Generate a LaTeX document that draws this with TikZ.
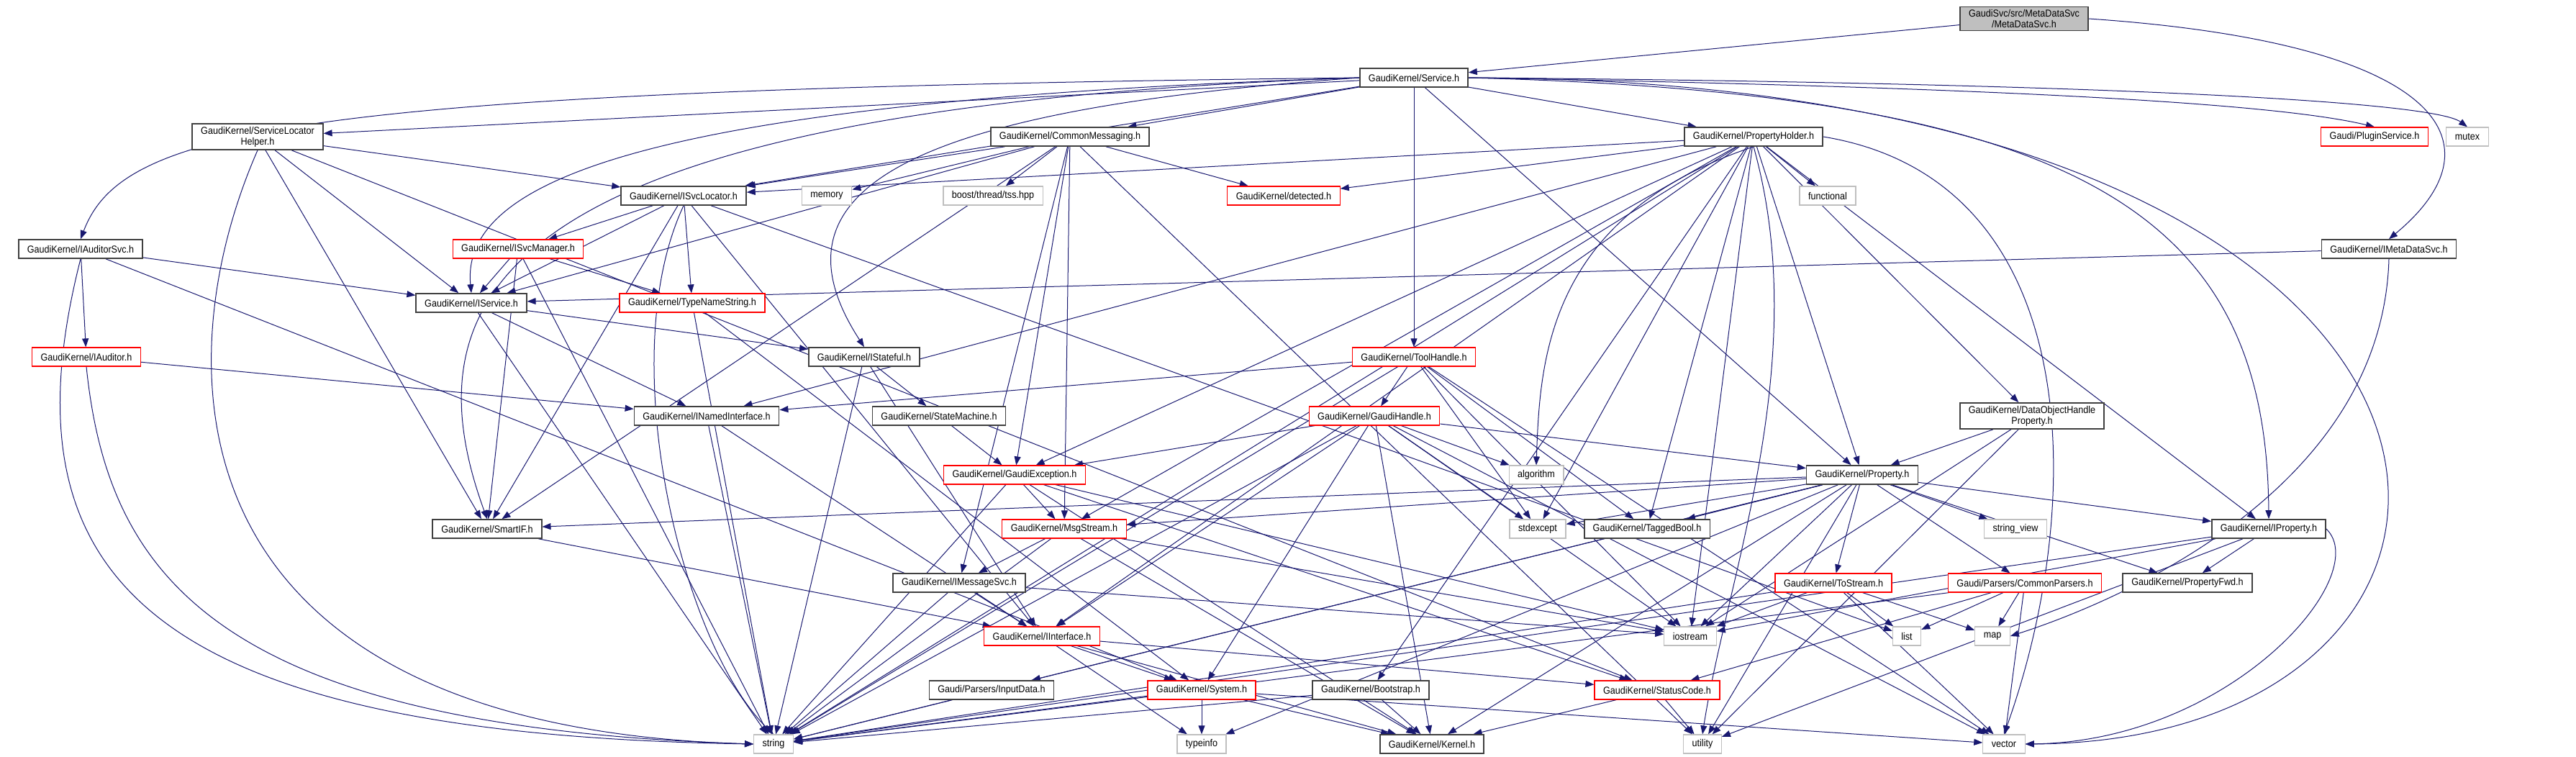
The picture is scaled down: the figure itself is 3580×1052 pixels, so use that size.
\documentclass[tikz,border=0pt]{standalone}
\usepackage{fontspec}
\usetikzlibrary{arrows.meta}
\newfontfamily\graphfont[FakeStretch=0.9]{Liberation Sans}
\definecolor{edgeblue}{RGB}{25,25,112}
\definecolor{boxgray}{RGB}{191,191,191}
\pgfdeclarelayer{background}
\pgfsetlayers{background,main}
\begin{document}
\begin{tikzpicture}[x=1pt, y=-1pt,
        box/.style={
            rectangle,
            draw=black!75, line width=1.6pt,
            fill=white,
            font=\graphfont\fontsize{14}{15}\selectfont,
            inner xsep=12pt, inner ysep=4pt,
            minimum height=26pt,
            align=center},
        redbox/.style={box, draw=red, line width=1.2pt},
        sysbox/.style={box, draw=boxgray, line width=1.2pt},
        mainbox/.style={box, fill=boxgray},
        arrow/.style={
            draw=edgeblue,
            line width=1pt,
            -{Triangle[length=12pt,width=9pt]}}
        ]
    \useasboundingbox (0,0) rectangle (3580,1052);

    \node (main) [mainbox] at (2813,26) {GaudiSvc/src/MetaDataSvc\\/MetaDataSvc.h};
    \node (service) [box] at (1965,108) {GaudiKernel/Service.h};
    \node (slhelper) [box] at (358,190) {GaudiKernel/ServiceLocator\\Helper.h};
    \node (commonmsg) [box] at (1487,190) {GaudiKernel/CommonMessaging.h};
    \node (propholder) [box] at (2437,190) {GaudiKernel/PropertyHolder.h};
    \node (pluginsvc) [redbox] at (3300,190) {Gaudi/PluginService.h};
    \node (mutex) [sysbox] at (3429,190) {mutex};
    \node (svclocator) [box] at (950,272) {GaudiKernel/ISvcLocator.h};
    \node (memory) [sysbox] at (1149,272) {memory};
    \node (tss) [sysbox] at (1380,272) {boost/thread/tss.hpp};
    \node (detected) [redbox] at (1784,272) {GaudiKernel/detected.h};
    \node (functional) [sysbox] at (2540,272) {functional};
    \node (auditorsvc) [box] at (112,346) {GaudiKernel/IAuditorSvc.h};
    \node (svcmanager) [redbox] at (720,346) {GaudiKernel/ISvcManager.h};
    \node (imetadatasvc) [box] at (3320,346) {GaudiKernel/IMetaDataSvc.h};
    \node (iservice) [box] at (655,421) {GaudiKernel/IService.h};
    \node (typename) [redbox] at (962,421) {GaudiKernel/TypeNameString.h};
    \node (iauditor) [redbox] at (120,496) {GaudiKernel/IAuditor.h};
    \node (istateful) [box] at (1201,496) {GaudiKernel/IStateful.h};
    \node (toolhandle) [redbox] at (1965,496) {GaudiKernel/ToolHandle.h};
    \node (dohprop) [box] at (2824,578) {GaudiKernel/DataObjectHandle\\Property.h};
    \node (namedif) [box] at (982,578) {GaudiKernel/INamedInterface.h};
    \node (statemachine) [box] at (1305,578) {GaudiKernel/StateMachine.h};
    \node (gaudihandle) [redbox] at (1910,578) {GaudiKernel/GaudiHandle.h};
    \node (gaudiexc) [redbox] at (1410,660) {GaudiKernel/GaudiException.h};
    \node (algorithm) [sysbox] at (2135,660) {algorithm};
    \node (property) [box] at (2588,660) {GaudiKernel/Property.h};
    \node (smartif) [box] at (677,735) {GaudiKernel/SmartIF.h};
    \node (msgstream) [redbox] at (1479,735) {GaudiKernel/MsgStream.h};
    \node (stdexcept) [sysbox] at (2137,735) {stdexcept};
    \node (taggedbool) [box] at (2289,735) {GaudiKernel/TaggedBool.h};
    \node (stringview) [sysbox] at (2801,735) {string\_view};
    \node (iproperty) [box] at (3153,735) {GaudiKernel/IProperty.h};
    \node (imessagesvc) [box] at (1333,810) {GaudiKernel/IMessageSvc.h};
    \node (tostream) [redbox] at (2548,810) {GaudiKernel/ToStream.h};
    \node (parsers) [redbox] at (2814,810) {Gaudi/Parsers/CommonParsers.h};
    \node (propfwd) [box] at (3040,810) {GaudiKernel/PropertyFwd.h};
    \node (iinterface) [redbox] at (1448,884) {GaudiKernel/IInterface.h};
    \node (iostream) [sysbox] at (2349,884) {iostream};
    \node (list) [sysbox] at (2650,884) {list};
    \node (map) [sysbox] at (2769,884) {map};
    \node (inputdata) [box] at (1378,959) {Gaudi/Parsers/InputData.h};
    \node (system) [redbox] at (1670,959) {GaudiKernel/System.h};
    \node (bootstrap) [box] at (1905,959) {GaudiKernel/Bootstrap.h};
    \node (statuscode) [redbox] at (2303,959) {GaudiKernel/StatusCode.h};
    \node (string) [sysbox] at (1075,1034) {string};
    \node (typeinfo) [sysbox] at (1670,1034) {typeinfo};
    \node (kernel) [box] at (1990,1034) {GaudiKernel/Kernel.h};
    \node (utility) [sysbox] at (2366,1034) {utility};
    \node (vector) [sysbox] at (2785,1034) {vector};

    \begin{pgfonlayer}{background}
    \draw [arrow] (main) -- (service);
    \draw [arrow] (main.east) .. controls (3400,60) and (3480,200) .. (imetadatasvc.north);

    \draw [arrow] (service) -- (slhelper);
    \draw [arrow] (service.west) .. controls (400,125) and (170,180) .. (auditorsvc.north);
    \draw [arrow] (service) -- (svclocator);
    \draw [arrow] (service) -- (commonmsg);
    \draw [arrow] (service) -- (propholder);
    \draw [arrow] (service.east) .. controls (2700,120) and (3150,140) .. (pluginsvc.north);
    \draw [arrow] (service.east) .. controls (2900,115) and (3380,140) .. (mutex.north);
    \draw [arrow] (service.east) .. controls (3580,110) and (3580,1030) .. (vector.east);
    \draw [arrow] (service.east) .. controls (2900,130) and (3150,300) .. (iproperty.north);
    \draw [arrow] (service) -- (property);
    \draw [arrow] (service) -- (toolhandle);
    \draw [arrow] (service.west) .. controls (1300,150) and (1050,250) .. (istateful.north);
    \draw [arrow] (service.west) .. controls (900,140) and (640,250) .. (iservice.north);
    \draw [arrow] (service.west) .. controls (700,150) and (560,400) .. (smartif.north);

    \draw [arrow] (slhelper) -- (svclocator);
    \draw [arrow] (slhelper) -- (iservice);
    \draw [arrow] (slhelper) -- (smartif);
    \draw [arrow] (slhelper.south) .. controls (230,500) and (220,1010) .. (string.west);
    \draw [arrow] (slhelper) -- (statuscode);

    \draw [arrow] (auditorsvc) -- (iservice);
    \draw [arrow] (auditorsvc) -- (iauditor);
    \draw [arrow] (auditorsvc.south) .. controls (0,800) and (200,1020) .. (string.west);
    \draw [arrow] (auditorsvc) -- (system);

    \draw [arrow] (iauditor) -- (namedif);
    \draw [arrow] (iauditor.south) .. controls (150,800) and (300,1010) .. (string.west);

    \draw [arrow] (svclocator) -- (svcmanager);
    \draw [arrow] (svclocator) -- (iservice);
    \draw [arrow] (svclocator) -- (typename);
    \draw [arrow] (svclocator) -- (smartif);
    \draw [arrow] (svclocator.south) .. controls (850,500) and (950,900) .. (string.north);
    \draw [arrow] (svclocator) -- (list);
    \draw [arrow] (svclocator) -- (iinterface);

    \draw [arrow] (commonmsg) -- (svclocator);
    \draw [arrow] (commonmsg) -- (memory);
    \draw [arrow] (commonmsg) -- (tss);
    \draw [arrow] (commonmsg) -- (detected);
    \draw [arrow] (commonmsg) -- (iservice);
    \draw [arrow] (commonmsg) -- (smartif);
    \draw [arrow] (commonmsg) -- (gaudiexc);
    \draw [arrow] (commonmsg) -- (msgstream);
    \draw [arrow] (commonmsg) -- (imessagesvc);
    \draw [arrow] (commonmsg) -- (utility);

    \draw [arrow] (propholder) -- (svclocator);
    \draw [arrow] (propholder) -- (detected);
    \draw [arrow] (propholder) -- (namedif);
    \draw [arrow] (propholder) -- (functional);
    \draw [arrow] (propholder) -- (dohprop);
    \draw [arrow] (propholder) -- (property);
    \draw [arrow] (propholder) -- (iproperty);
    \draw [arrow] (propholder.east) .. controls (2900,250) and (2900,700) .. (vector.north);
    \draw [arrow] (propholder.south) .. controls (2150,300) and (2140,500) .. (algorithm.north);
    \draw [arrow] (propholder) -- (msgstream);
    \draw [arrow] (propholder) -- (stdexcept);
    \draw [arrow] (propholder) -- (iostream);
    \draw [arrow] (propholder) -- (bootstrap);
    \draw [arrow] (propholder) -- (string);
    \draw [arrow] (propholder.south) .. controls (2520,500) and (2400,800) .. (utility.north);
    \draw [arrow] (propholder) -- (gaudiexc);
    \draw [arrow] (propholder) -- (iinterface);
    \draw [arrow] (propholder) -- (taggedbool);

    \draw [arrow] (svcmanager) -- (iservice);
    \draw [arrow] (svcmanager) -- (typename);
    \draw [arrow] (svcmanager) -- (smartif);
    \draw [arrow] (svcmanager) -- (string);

    \draw [arrow] (iservice) -- (istateful);
    \draw [arrow] (iservice) -- (namedif);
    \draw [arrow] (iservice) -- (string);

    \draw [arrow] (typename) -- (string);
    \draw [arrow] (typename) -- (system);

    \draw [arrow] (istateful) -- (statemachine);
    \draw [arrow] (istateful) -- (iinterface);
    \draw [arrow] (istateful) -- (string);

    \draw [arrow] (statemachine) -- (gaudiexc);

    \draw [arrow] (namedif) -- (iinterface);
    \draw [arrow] (namedif) -- (string);

    \draw [arrow] (toolhandle) -- (namedif);
    \draw [arrow] (toolhandle) -- (gaudihandle);
    \draw [arrow] (toolhandle) -- (string);
    \draw [arrow] (toolhandle) -- (stdexcept);
    \draw [arrow] (toolhandle) -- (taggedbool);
    \draw [arrow] (toolhandle) -- (vector);
    \draw [arrow] (toolhandle) -- (iostream);

    \draw [arrow] (gaudihandle) -- (gaudiexc);
    \draw [arrow] (gaudihandle) -- (property);
    \draw [arrow] (gaudihandle) -- (algorithm);
    \draw [arrow] (gaudihandle) -- (stdexcept);
    \draw [arrow] (gaudihandle) -- (iostream);
    \draw [arrow] (gaudihandle) -- (string);
    \draw [arrow] (gaudihandle) -- (system);
    \draw [arrow] (gaudihandle) -- (vector);
    \draw [arrow] (gaudihandle) -- (iinterface);
    \draw [arrow] (gaudihandle) -- (kernel);

    \draw [arrow] (gaudiexc) -- (msgstream);
    \draw [arrow] (gaudiexc) -- (string);
    \draw [arrow] (gaudiexc) -- (statuscode);
    \draw [arrow] (gaudiexc) -- (kernel);
    \draw [arrow] (gaudiexc) -- (iostream);

    \draw [arrow] (msgstream) -- (imessagesvc);
    \draw [arrow] (msgstream) -- (string);
    \draw [arrow] (msgstream) -- (iostream);
    \draw [arrow] (msgstream) -- (kernel);

    \draw [arrow] (imessagesvc) -- (iinterface);
    \draw [arrow] (imessagesvc) -- (string);
    \draw [arrow] (imessagesvc) -- (iostream);

    \draw [arrow] (iinterface) -- (typeinfo);
    \draw [arrow] (iinterface) -- (system);
    \draw [arrow] (iinterface) -- (statuscode);
    \draw [arrow] (iinterface) -- (kernel);

    \draw [arrow] (smartif) -- (iinterface);

    \draw [arrow] (property) -- (smartif);
    \draw [arrow] (property) -- (msgstream);
    \draw [arrow] (property) -- (stdexcept);
    \draw [arrow] (property) -- (taggedbool);
    \draw [arrow] (property) -- (stringview);
    \draw [arrow] (property) -- (iproperty);
    \draw [arrow] (property) -- (propfwd);
    \draw [arrow] (property) -- (tostream);
    \draw [arrow] (property) -- (parsers);
    \draw [arrow] (property) -- (iostream);
    \draw [arrow] (property) -- (string);
    \draw [arrow] (property) -- (utility);
    \draw [arrow] (property) -- (typeinfo);
    \draw [arrow] (property) -- (inputdata);
    \draw [arrow] (property) -- (kernel);

    \draw [arrow] (dohprop) -- (property);
    \draw [arrow] (dohprop) -- (iostream);
    \draw [arrow] (dohprop) -- (utility);

    \draw [arrow] (iproperty) -- (propfwd);
    \draw [arrow] (iproperty) -- (iostream);
    \draw [arrow] (iproperty) -- (string);
    \draw [arrow] (iproperty.east) .. controls (3300,800) and (3100,1030) .. (vector.east);
    \draw [arrow] (iproperty) -- (utility);

    \draw [arrow] (imetadatasvc) -- (iservice);
    \draw [arrow] (imetadatasvc.south) .. controls (3310,700) and (2900,850) .. (map.east);

    \draw [arrow] (tostream) -- (iostream);
    \draw [arrow] (tostream) -- (list);
    \draw [arrow] (tostream) -- (map);
    \draw [arrow] (tostream) -- (string);
    \draw [arrow] (tostream) -- (vector);

    \draw [arrow] (parsers) -- (list);
    \draw [arrow] (parsers) -- (map);
    \draw [arrow] (parsers) -- (vector);
    \draw [arrow] (parsers) -- (string);
    \draw [arrow] (parsers) -- (statuscode);

    \draw [arrow] (system) -- (typeinfo);
    \draw [arrow] (system) -- (string);
    \draw [arrow] (system) -- (kernel);
    \draw [arrow] (system) -- (vector);

    \draw [arrow] (inputdata) -- (string);

    \draw [arrow] (bootstrap) -- (kernel);
    \draw [arrow] (bootstrap) -- (string);

    \draw [arrow] (statuscode) -- (kernel);
    \draw [arrow] (statuscode) -- (utility);
    \end{pgfonlayer}

\end{tikzpicture}
\end{document}
